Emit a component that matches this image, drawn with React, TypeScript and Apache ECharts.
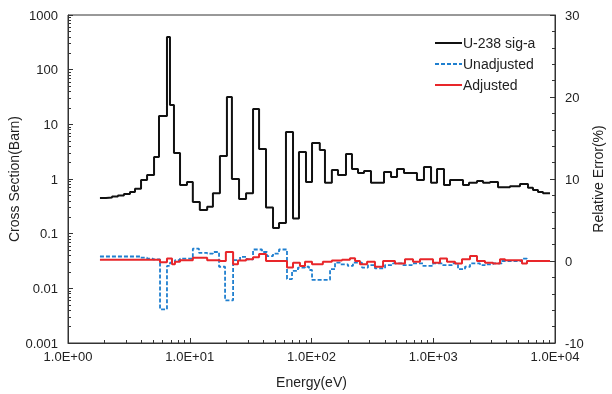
import React, { useEffect, useRef } from "react";
import * as echarts from "echarts";

// U-238 sig-a : group left edges (eV) and cross sections (barn); last edge closes the final group
const blackEdges = [1.83, 2.05, 2.30, 2.57, 2.88, 3.23, 3.55, 3.98, 4.46, 5.09, 5.59, 6.50, 6.88, 7.42, 8.32, 9.49, 10.6, 12.1, 13.9, 15.5, 17.7, 20.2, 22.2, 25.4, 29.0, 33.1, 37.1, 42.3, 48.3, 54.1, 61.7, 70.5, 78.9, 90.1, 101, 117, 129, 147, 165, 192, 215, 241, 270, 308, 394, 450, 504, 575, 735, 839, 959, 1074, 1225, 1373, 1755, 1966, 2287, 2564, 2925, 3403, 4268, 5158, 6000, 6594, 7249, 7967, 9100];
const blackValues = [0.45, 0.46, 0.48, 0.50, 0.53, 0.58, 0.66, 0.96, 1.18, 2.52, 14.2, 396, 22.6, 2.99, 0.78, 0.88, 0.38, 0.27, 0.31, 0.55, 2.63, 31.6, 1.0, 0.43, 0.55, 19.1, 3.54, 0.30, 0.127, 0.157, 7.24, 0.19, 3.12, 0.88, 4.56, 3.40, 0.85, 1.46, 1.18, 2.87, 1.52, 1.29, 1.40, 0.85, 1.34, 1.09, 1.52, 1.29, 0.96, 1.66, 0.85, 1.52, 0.78, 0.96, 0.78, 0.85, 0.92, 0.85, 0.88, 0.71, 0.74, 0.81, 0.69, 0.63, 0.58, 0.55];

// Unadjusted relative error (%)
const blueEdges = [1.83, 3.90, 4.46, 4.99, 5.70, 6.50, 6.88, 7.56, 8.32, 10.6, 11.9, 13.9, 15.5, 17.4, 19.5, 22.7, 25.9, 29.5, 33.1, 39.2, 43.1, 48.3, 54.1, 62.9, 69.2, 77.4, 88.4, 95.4, 101, 142, 156, 171, 199, 219, 260, 291, 332, 402, 467, 554, 669, 824, 995, 1180, 1426, 1597, 1823, 2004, 2421, 2661, 3096, 3670, 5358, 5888, 9100];
const blueValues = [0.55, 0.4, 0.3, 0.2, -5.9, -0.6, -0.2, 0.1, 0.3, 1.5, 1.0, 0.9, 1.1, -0.7, -4.8, 0.1, 0.5, 0.2, 1.4, 1.1, 0.6, 0.9, 1.4, -2.2, -1.2, -0.8, -0.7, -1.1, -2.3, -1.0, -0.2, -0.4, -0.6, -0.2, -0.8, -0.5, -0.9, -0.5, -0.3, -0.5, -0.3, -0.6, -0.3, -0.5, -0.3, -1.0, -0.7, -0.3, -0.5, -0.4, -0.3, 0.0, 0.3, 0.0];

// Adjusted relative error (%)
const redEdges = [1.83, 5.70, 6.50, 7.15, 7.56, 8.32, 10.6, 13.9, 17.7, 19.8, 22.7, 24.9, 29.0, 33.1, 37.1, 42.3, 62.9, 70.5, 80.4, 88.4, 101, 124, 147, 178, 207, 228, 250, 286, 332, 387, 485, 586, 682, 778, 995, 1136, 1297, 1509, 1722, 2004, 2287, 2661, 3096, 3534, 3885, 5358, 5888, 9100];
const redValues = [0.15, -0.15, 0.3, -0.4, -0.1, 0.1, 0.4, 0.1, 0.0, 1.1, -0.4, 0.05, 0.2, 0.45, 0.85, 0.0, -0.8, -0.2, -0.6, -0.1, -0.4, -0.1, 0.05, 0.15, 0.35, 0.0, -0.4, -0.1, -0.7, 0.0, -0.3, 0.2, -0.1, 0.2, -0.2, 0.3, -0.1, -0.3, 0.2, 0.6, 0.0, -0.2, -0.3, 0.2, 0.1, -0.3, 0.0];

const xTicks = [1, 10, 100, 1000, 10000];
const yTicks = [0.001, 0.01, 0.1, 1, 10, 100, 1000];
const rightMin = -10;
const rightMax = 30;
const rightStep = 10;

const seriesNames = ["U-238 sig-a", "Unadjusted", "Adjusted"];

function minorsOf(decades: number[]) {
  const out: number[] = [];
  decades.forEach((d) => {
    for (let m = 2; m <= 9; m++) out.push(m * d);
  });
  return out;
}

function toSteps(edges: number[], values: number[]) {
  return edges.map((e, i) => [e, values[Math.min(i, values.length - 1)]]);
}

const FONT = "'Liberation Sans', Arial, sans-serif";
const AXIS_COLOR = "#333";
const TEXT_COLOR = "#222";

export default function App() {
  const ref = useRef<HTMLDivElement>(null);
  useEffect(() => {
    if (!ref.current) return;
    const chart = echarts.init(ref.current, null, { renderer: "svg" });
    const xMinor = minorsOf(xTicks.slice(0, -1));
    const yMinor = minorsOf(yTicks.slice(0, -1));
    const expLabel = (v: number) => {
      const e = Math.round(Math.log10(v));
      return "1.0E+" + String(e).padStart(2, "0");
    };
    const yLabel = (v: number) => (v >= 1 ? String(Math.round(v)) : String(Number(v.toPrecision(1))));
    chart.setOption({
      animation: false,
      textStyle: { fontFamily: FONT },
      grid: {
        left: 68,
        right: 57,
        top: 15,
        bottom: 51,
        show: true,
        borderColor: AXIS_COLOR,
        borderWidth: 1,
        containLabel: false,
        outerBoundsMode: "none",
      },
      legend: {
        orient: "vertical",
        left: 429,
        top: 31,
        itemWidth: 27,
        itemHeight: 12,
        itemGap: 7,
        data: seriesNames,
        itemStyle: { opacity: 0 },
        textStyle: { fontSize: 14, color: TEXT_COLOR, fontFamily: FONT, padding: [0, 0, 0, -4] },
      },
      xAxis: [
        {
          type: "log",
          logBase: 10,
          min: 1,
          max: 10000,
          position: "bottom",
          name: "Energy(eV)",
          nameLocation: "middle",
          nameGap: 32,
          nameMoveOverlap: false,
          nameTextStyle: { fontSize: 14, color: TEXT_COLOR, fontFamily: FONT },
          axisLine: { show: true, onZero: false, lineStyle: { color: AXIS_COLOR } },
          axisTick: { show: true, inside: true, length: 5, customValues: xTicks, lineStyle: { color: AXIS_COLOR } },
          axisLabel: { show: true, customValues: xTicks, formatter: expLabel, fontSize: 13, color: TEXT_COLOR, margin: 7, fontFamily: FONT },
          splitLine: { show: false },
        },
        {
          type: "log",
          logBase: 10,
          min: 1,
          max: 10000,
          position: "bottom",
          axisLine: { show: false, onZero: false },
          axisTick: { show: true, inside: true, length: 3, customValues: xMinor, lineStyle: { color: AXIS_COLOR } },
          axisLabel: { show: false },
          splitLine: { show: false },
        },
      ],
      yAxis: [
        {
          type: "log",
          logBase: 10,
          min: 0.001,
          max: 1000,
          position: "left",
          name: "Cross Section(Barn)",
          nameLocation: "middle",
          nameGap: 47,
          nameMoveOverlap: false,
          nameTextStyle: { fontSize: 14, color: TEXT_COLOR, fontFamily: FONT },
          axisLine: { show: true, onZero: false, lineStyle: { color: AXIS_COLOR } },
          axisTick: { show: true, inside: true, length: 5, customValues: yTicks, lineStyle: { color: AXIS_COLOR } },
          axisLabel: { show: true, customValues: yTicks, formatter: yLabel, fontSize: 13, color: TEXT_COLOR, margin: 10, fontFamily: FONT },
          splitLine: { show: false },
        },
        {
          type: "value",
          min: rightMin,
          max: rightMax,
          interval: rightStep,
          position: "right",
          name: "Relative Error(%)",
          nameLocation: "middle",
          nameGap: 36,
          nameRotate: 90,
          nameMoveOverlap: false,
          nameTextStyle: { fontSize: 14, color: TEXT_COLOR, fontFamily: FONT },
          axisLine: { show: true, onZero: false, lineStyle: { color: AXIS_COLOR } },
          axisTick: { show: true, inside: true, length: 5, lineStyle: { color: AXIS_COLOR } },
          minorTick: { show: true, splitNumber: 5, length: 3, lineStyle: { color: AXIS_COLOR } },
          axisLabel: { show: true, fontSize: 13, color: TEXT_COLOR, margin: 10, fontFamily: FONT },
          splitLine: { show: false },
        },
        {
          type: "log",
          logBase: 10,
          min: 0.001,
          max: 1000,
          position: "left",
          axisLine: { show: false, onZero: false },
          axisTick: { show: true, inside: true, length: 3, customValues: yMinor, lineStyle: { color: AXIS_COLOR } },
          axisLabel: { show: false },
          splitLine: { show: false },
        },
      ],
      series: [
        {
          name: seriesNames[0],
          type: "line",
          xAxisIndex: 0,
          yAxisIndex: 0,
          step: "end",
          symbol: "none",
          showSymbol: false,
          color: "#111",
          lineStyle: { color: "#111", width: 2 },
          data: toSteps(blackEdges, blackValues),
          z: 3,
        },
        {
          name: seriesNames[1],
          type: "line",
          xAxisIndex: 0,
          yAxisIndex: 1,
          step: "end",
          symbol: "none",
          showSymbol: false,
          color: "#1f7fcf",
          lineStyle: { color: "#1f7fcf", width: 1.8, type: [4, 2] },
          data: toSteps(blueEdges, blueValues),
          z: 4,
        },
        {
          name: seriesNames[2],
          type: "line",
          xAxisIndex: 0,
          yAxisIndex: 1,
          step: "end",
          symbol: "none",
          showSymbol: false,
          color: "#e8262a",
          lineStyle: { color: "#e8262a", width: 2 },
          data: toSteps(redEdges, redValues),
          z: 5,
        },
      ],
    });
    return () => chart.dispose();
  }, []);
  return <div ref={ref} style={{ position: "fixed", left: 0, top: 0, width: 612, height: 394 }} />;
}
